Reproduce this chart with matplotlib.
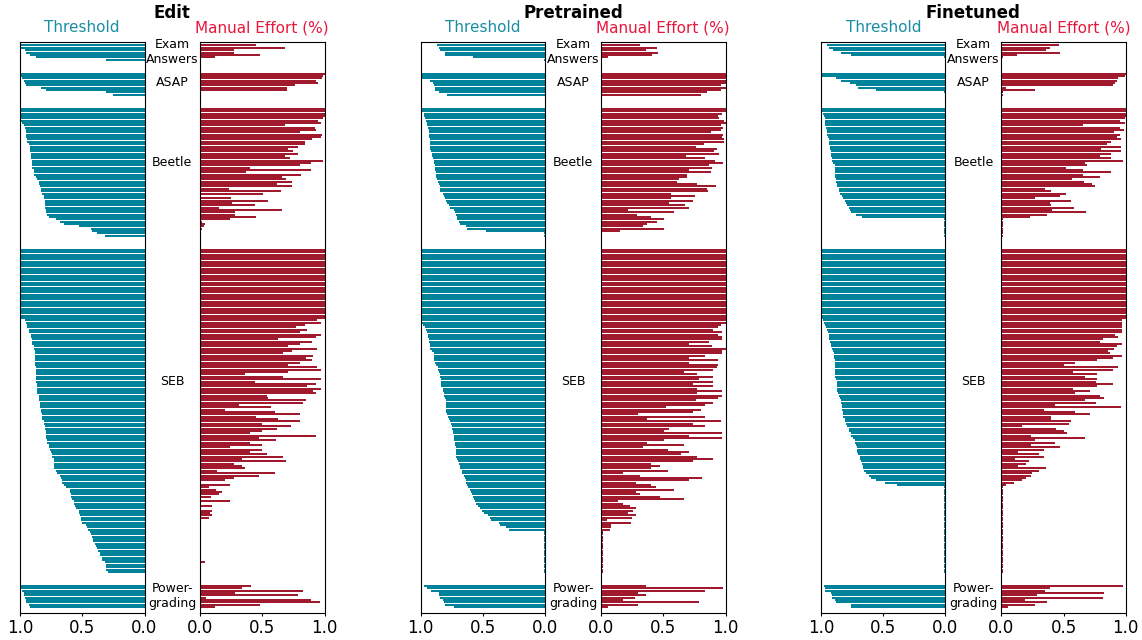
import matplotlib
matplotlib.use("Agg")
import matplotlib.pyplot as plt
import matplotlib.transforms as mtransforms
import numpy as np

# ---------------- data ----------------
panels = ["Edit", "Pretrained", "Finetuned"]
groups = ["Exam\nAnswers", "ASAP", "Beetle", "SEB", "Power-\ngrading"]

# ---- Edit ----
edit_exam_thr = [1.00, 0.99, 0.96, 0.95, 0.92, 0.87, 0.31]
edit_exam_man = [0.45, 0.68, 0.27, 0.27, 0.48, 0.12, 0.00]
edit_asap_thr = [1.00, 1.00, 0.98, 0.97, 0.96, 0.95, 0.83, 0.79, 0.31, 0.25]
edit_asap_man = [1.00, 0.99, 0.98, 0.93, 0.95, 0.76, 0.70, 0.70, 0.01, 0.01]
edit_beetle_thr = [1.00, 1.00, 1.00, 1.00, 0.99, 0.99, 0.98, 0.97, 0.96, 0.95,
                   0.95, 0.95, 0.95, 0.94, 0.94, 0.93, 0.92, 0.92, 0.92, 0.91,
                   0.91, 0.91, 0.90, 0.90, 0.90, 0.90, 0.89, 0.89, 0.89, 0.87,
                   0.86, 0.85, 0.85, 0.84, 0.83, 0.83, 0.82, 0.81, 0.81, 0.80,
                   0.80, 0.80, 0.80, 0.79, 0.79, 0.78, 0.77, 0.71, 0.68, 0.65,
                   0.53, 0.43, 0.42, 0.38, 0.32]
edit_beetle_man = [1.00, 1.00, 1.00, 1.00, 0.99, 0.95, 0.97, 0.68, 0.92, 0.93,
                   0.80, 0.98, 0.97, 0.90, 0.84, 0.84, 0.79, 0.71, 0.75, 0.79,
                   0.68, 0.72, 0.99, 0.89, 0.80, 0.40, 0.89, 0.37, 0.81, 0.66,
                   0.69, 0.74, 0.62, 0.74, 0.23, 0.65, 0.51, 0.01, 0.25, 0.55,
                   0.26, 0.44, 0.15, 0.66, 0.28, 0.28, 0.45, 0.24, 0.02, 0.04,
                   0.03, 0.02, 0.01, 0.01, 0.01]
edit_seb_thr = [1.00] * 30 + [
    0.96, 0.95, 0.94, 0.94, 0.93, 0.93, 0.91, 0.91, 0.90, 0.90,
    0.90, 0.89, 0.89, 0.88, 0.88, 0.88, 0.88, 0.88, 0.88, 0.88,
    0.87, 0.87, 0.87, 0.87, 0.87, 0.87, 0.87, 0.86, 0.86, 0.86,
    0.86, 0.86, 0.85, 0.85, 0.85, 0.84, 0.84, 0.84, 0.83, 0.83,
    0.82, 0.82, 0.82, 0.81, 0.81, 0.80, 0.80, 0.79, 0.79, 0.79,
    0.79, 0.78, 0.78, 0.77, 0.77, 0.76, 0.75, 0.74, 0.74, 0.73,
    0.73, 0.73, 0.73, 0.73, 0.71, 0.70, 0.68, 0.67, 0.66, 0.66,
    0.65, 0.63, 0.60, 0.60, 0.59, 0.59, 0.58, 0.57, 0.57, 0.56,
    0.55, 0.53, 0.53, 0.52, 0.51, 0.51, 0.50, 0.47, 0.46, 0.45,
    0.44, 0.43, 0.42, 0.41, 0.41, 0.40, 0.39, 0.38, 0.37, 0.36,
    0.36, 0.34, 0.34, 0.32, 0.31, 0.31, 0.31, 0.29]
edit_seb_man = [1.00] * 30 + [
    0.94, 0.97, 0.84, 0.77, 0.86, 0.80, 0.97, 0.93, 0.63, 0.90,
    0.80, 0.71, 0.94, 0.74, 0.67, 0.91, 0.85, 0.90, 0.80, 0.71,
    0.94, 0.97, 0.71, 0.36, 0.67, 0.97, 0.44, 0.93, 0.86, 0.97,
    0.91, 0.93, 0.54, 0.55, 0.85, 0.83, 0.31, 0.57, 0.20, 0.60,
    0.80, 0.45, 0.63, 0.80, 0.50, 0.73, 0.62, 0.50, 0.40, 0.93,
    0.47, 0.61, 0.40, 0.50, 0.24, 0.50, 0.40, 0.54, 0.67, 0.34,
    0.69, 0.27, 0.34, 0.36, 0.14, 0.60, 0.47, 0.27, 0.20, 0.01,
    0.24, 0.07, 0.13, 0.18, 0.15, 0.09, 0.01, 0.24, 0.01, 0.10,
    0.01, 0.10, 0.08, 0.10, 0.07,
    0.01, 0.01, 0.01, 0.01, 0.01, 0.01, 0.01, 0.01, 0.01, 0.01,
    0.01, 0.01, 0.01, 0.01, 0.01, 0.01, 0.01, 0.01, 0.04, 0.01,
    0.01, 0.01, 0.01]
edit_power_thr = [1.00, 0.99, 0.98, 0.97, 0.97, 0.96, 0.95, 0.95, 0.93, 0.92]
edit_power_man = [0.41, 0.34, 0.83, 0.28, 0.79, 0.05, 0.89, 0.96, 0.48, 0.12]

# ---- Pretrained ----
pre_exam_thr = [0.87, 0.85, 0.84, 0.80, 0.80, 0.58, 0.01]
pre_exam_man = [0.31, 0.45, 0.36, 0.46, 0.41, 0.06, 0.01]
pre_asap_thr = [1.00, 1.00, 1.00, 0.92, 0.90, 0.89, 0.88, 0.88, 0.85, 0.79]
pre_asap_man = [1.00, 1.00, 1.00, 1.00, 1.00, 0.96, 1.00, 0.96, 0.85, 0.80]
pre_beetle_thr = [1.00, 0.985, 0.975, 0.97, 0.965, 0.957, 0.947, 0.947, 0.94, 0.935,
                  0.935, 0.93, 0.93, 0.925, 0.925, 0.92, 0.92, 0.92, 0.915, 0.91,
                  0.905, 0.90, 0.893, 0.888, 0.885, 0.883, 0.883, 0.877, 0.877, 0.872,
                  0.867, 0.861, 0.853, 0.845, 0.84, 0.84, 0.82, 0.813, 0.80, 0.797,
                  0.79, 0.773, 0.76, 0.733, 0.723, 0.717, 0.707, 0.707, 0.69, 0.68,
                  0.637, 0.627, 0.47, 0.01, 0.01]
pre_beetle_man = [1.00, 1.00, 0.97, 0.94, 0.95, 0.985, 1.00, 0.965, 0.98, 0.965,
                  0.885, 0.98, 0.975, 0.985, 0.985, 0.83, 0.76, 0.93, 0.905, 0.95,
                  0.685, 0.835, 0.915, 0.98, 0.87, 0.89, 0.71, 0.885, 0.69, 0.69,
                  0.63, 0.61, 0.77, 0.92, 0.85, 0.86, 0.56, 0.755, 0.56, 0.74,
                  0.55, 0.675, 0.71, 0.22, 0.59, 0.29, 0.40, 0.51, 0.45, 0.37,
                  0.34, 0.51, 0.15, 0.01, 0.01]
pre_seb_thr = [1.00] * 32 + [
    0.98, 0.963, 0.952, 0.947, 0.936, 0.936, 0.93, 0.93, 0.925, 0.92,
    0.92, 0.905, 0.893, 0.893, 0.888, 0.888, 0.883, 0.877, 0.861, 0.856,
    0.85, 0.845, 0.845, 0.835, 0.835, 0.835, 0.835, 0.82, 0.82, 0.813,
    0.813, 0.80, 0.797, 0.792, 0.792, 0.792, 0.792, 0.792, 0.787, 0.776,
    0.77, 0.76, 0.755, 0.75, 0.75, 0.739, 0.739, 0.733, 0.733, 0.728,
    0.723, 0.723, 0.717, 0.717, 0.717, 0.712, 0.712, 0.707, 0.70, 0.69,
    0.685, 0.68, 0.67, 0.664, 0.653, 0.643, 0.637, 0.632, 0.627, 0.616,
    0.605, 0.595, 0.589, 0.579, 0.573, 0.563, 0.557, 0.541, 0.52, 0.509,
    0.493, 0.461, 0.445, 0.43, 0.37, 0.365, 0.317, 0.29] + [0.01] * 18
pre_seb_man = [1.00] * 32 + [
    0.965, 0.94, 0.90, 0.975, 0.94, 0.975, 0.975, 0.87, 0.71, 0.895,
    1.00, 0.975, 0.975, 0.835, 0.705, 0.94, 0.705, 0.94, 0.93, 0.90,
    0.67, 0.77, 0.90, 0.79, 0.90, 0.74, 0.90, 0.77, 0.975, 0.77,
    0.975, 0.94, 0.76, 0.90, 0.835, 0.52, 0.80, 0.74, 0.30, 0.835,
    0.37, 0.965, 0.74, 0.835, 0.545, 0.51, 0.975, 0.705, 0.975, 0.51,
    0.37, 0.67, 0.335, 0.54, 0.705, 0.64, 0.77, 0.90, 0.74, 0.405,
    0.475, 0.405, 0.54, 0.18, 0.31, 0.815, 0.705, 0.28, 0.405, 0.44,
    0.59, 0.28, 0.31, 0.475, 0.67, 0.14, 0.175, 0.235, 0.28, 0.255,
    0.22, 0.28, 0.25, 0.045, 0.24, 0.08, 0.08, 0.07] + [0.015] * 18
pre_power_thr = [0.97, 0.95, 0.915, 0.85, 0.85, 0.845, 0.82, 0.813, 0.80, 0.728]
pre_power_man = [0.36, 0.98, 0.835, 0.30, 0.36, 0.27, 0.18, 0.79, 0.30, 0.055]

# ---- Finetuned ----
fin_exam_thr = [0.955, 0.935, 0.90, 0.84, 0.76, 0.01, 0.00]
fin_exam_man = [0.46, 0.39, 0.36, 0.47, 0.13, 0.01, 0.00]
fin_asap_thr = [1.00, 0.99, 0.88, 0.84, 0.77, 0.715, 0.70, 0.56, 0.01, 0.00]
fin_asap_man = [1.00, 0.99, 0.94, 0.93, 0.91, 0.90, 0.04, 0.27, 0.01, 0.01]
fin_beetle_thr = [1.00, 1.00, 0.987, 0.976, 0.97, 0.97, 0.965, 0.965, 0.96, 0.954,
                  0.954, 0.95, 0.944, 0.938, 0.933, 0.933, 0.928, 0.928, 0.922, 0.922,
                  0.917, 0.91, 0.91, 0.90, 0.89, 0.89, 0.89, 0.89, 0.885, 0.885,
                  0.88, 0.88, 0.874, 0.874, 0.858, 0.853, 0.847, 0.83, 0.826, 0.804,
                  0.80, 0.794, 0.772, 0.767, 0.76, 0.718, 0.67, 0.01, 0.01, 0.01,
                  0.01, 0.01, 0.01, 0.01, 0.01]
fin_beetle_man = [1.00, 1.00, 1.00, 1.00, 0.995, 0.95, 0.995, 0.66, 0.955, 0.985,
                  0.905, 0.955, 0.93, 0.96, 0.88, 0.85, 0.96, 0.80, 0.96, 0.88,
                  0.79, 0.885, 0.975, 0.675, 0.686, 0.52, 0.654, 0.88, 0.654, 0.79,
                  0.57, 0.665, 0.73, 0.756, 0.35, 0.40, 0.52, 0.47, 0.27, 0.56,
                  0.39, 0.40, 0.585, 0.41, 0.68, 0.37, 0.23, 0.01, 0.01, 0.01,
                  0.01, 0.01, 0.01, 0.01, 0.01]
fin_seb_thr = [1.00] * 30 + [
    0.987, 0.976, 0.965, 0.96, 0.95, 0.944, 0.938, 0.933, 0.933, 0.928,
    0.922, 0.917, 0.91, 0.906, 0.895, 0.895, 0.895, 0.89, 0.89, 0.89,
    0.885, 0.885, 0.885, 0.885, 0.885, 0.88, 0.874, 0.874, 0.874, 0.874,
    0.869, 0.863, 0.853, 0.847, 0.842, 0.836, 0.83, 0.83, 0.83, 0.826,
    0.82, 0.82, 0.81, 0.804, 0.80, 0.788, 0.777, 0.772, 0.761, 0.756,
    0.74, 0.729, 0.724, 0.718, 0.713, 0.708, 0.708, 0.702, 0.69, 0.686,
    0.68, 0.67, 0.665, 0.66, 0.654, 0.638, 0.617, 0.595, 0.558, 0.488,
    0.39] + [0.01] * 37
fin_seb_man = [1.00] * 30 + [
    0.97, 0.97, 0.97, 0.97, 0.97, 0.97, 0.91, 0.94, 0.82, 0.79,
    0.97, 0.93, 0.905, 0.86, 0.87, 0.97, 0.895, 0.77, 0.595, 0.50,
    0.94, 0.90, 0.575, 0.77, 0.675, 0.77, 0.76, 0.90, 0.77, 0.575,
    0.71, 0.595, 0.79, 0.826, 0.675, 0.76, 0.435, 0.965, 0.34, 0.595,
    0.71, 0.40, 0.40, 0.56, 0.54, 0.165, 0.44, 0.50, 0.53, 0.235,
    0.67, 0.27, 0.435, 0.235, 0.47, 0.34, 0.134, 0.30, 0.34, 0.107,
    0.22, 0.20, 0.134, 0.36, 0.30, 0.247, 0.235, 0.20, 0.17, 0.10,
    0.04] + [0.01] * 37
fin_power_thr = [0.976, 0.965, 0.965, 0.917, 0.91, 0.91, 0.885, 0.88, 0.756, 0.756]
fin_power_man = [0.98, 0.39, 0.355, 0.826, 0.284, 0.815, 0.19, 0.365, 0.27, 0.05]

thr_data = [
    [edit_exam_thr, edit_asap_thr, edit_beetle_thr, edit_seb_thr, edit_power_thr],
    [pre_exam_thr, pre_asap_thr, pre_beetle_thr, pre_seb_thr, pre_power_thr],
    [fin_exam_thr, fin_asap_thr, fin_beetle_thr, fin_seb_thr, fin_power_thr],
]
man_data = [
    [edit_exam_man, edit_asap_man, edit_beetle_man, edit_seb_man, edit_power_man],
    [pre_exam_man, pre_asap_man, pre_beetle_man, pre_seb_man, pre_power_man],
    [fin_exam_man, fin_asap_man, fin_beetle_man, fin_seb_man, fin_power_man],
]

# ---------------- style / layout ----------------
TEAL = "#00829a"
RED = "#a0192d"
TEAL_TXT = "#1a8ea4"
RED_TXT = "#e8173c"
GAP = 5
BAR_H = 0.85
LABEL_FRAC = [0.45, 0.42, 0.42, 0.41, 0.46]   # vertical placement of group labels

W, H = 1142, 640
fig = plt.figure(figsize=(W / 100, H / 100), dpi=100)

left_px = [20, 420.5, 821]
right_px = [200, 601, 1001.3]
ax_w = 124.5
ax_bottom = 27
ax_h = 571.3

for k, name in enumerate(panels):
    axL = fig.add_axes([left_px[k] / W, ax_bottom / H, ax_w / W, ax_h / H])
    axR = fig.add_axes([right_px[k] / W, ax_bottom / H, ax_w / W, ax_h / H])

    offset = 0
    label_y = []
    for g in range(len(groups)):
        thr = thr_data[k][g]
        man = man_data[k][g]
        y = offset + np.arange(len(thr))
        axL.barh(y, thr, height=BAR_H, color=TEAL, linewidth=0)
        axR.barh(y, man, height=BAR_H, color=RED, linewidth=0)
        label_y.append(offset - 0.5 + LABEL_FRAC[g] * len(thr))
        offset += len(thr) + GAP
    total = offset - GAP

    for ax in (axL, axR):
        ax.set_ylim(total + 1.5, -1.6)
        ax.set_yticks([])
        ax.tick_params(axis="x", labelsize=12, length=2.5, pad=1.5)
    axL.set_xlim(1.0, 0.0)
    axR.set_xlim(0.0, 1.0)
    axL.set_xticks([1.0, 0.5, 0.0])
    axR.set_xticks([0.0, 0.5, 1.0])

    gap_frac = (right_px[k] - left_px[k] - ax_w) / ax_w
    trans = mtransforms.blended_transform_factory(axL.transAxes, axL.transData)
    for g, lab in enumerate(groups):
        axL.text(1 + gap_frac / 2, label_y[g], lab, transform=trans,
                 ha="center", va="center", fontsize=9, clip_on=False)

    mid_x = (left_px[k] + ax_w + right_px[k]) / 2
    fig.text(mid_x / W, 1 - 12.5 / H, name, ha="center", va="center",
             fontsize=12, fontweight="bold")
    fig.text((left_px[k] + ax_w / 2) / W, 1 - 28 / H, "Threshold",
             ha="center", va="center", fontsize=11, color=TEAL_TXT)
    fig.text((right_px[k] + ax_w / 2) / W, 1 - 28 / H, "Manual Effort (%)",
             ha="center", va="center", fontsize=11, color=RED_TXT)

fig.savefig("out.png", dpi=100)
